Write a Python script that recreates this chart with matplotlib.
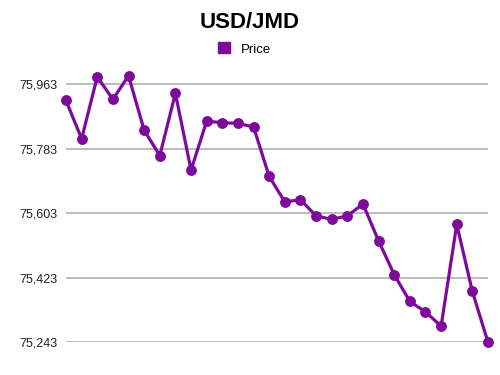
import matplotlib
matplotlib.use("Agg")
import matplotlib.pyplot as plt
from matplotlib.patches import Patch
from matplotlib.ticker import FuncFormatter

# Datos
precio = [75.918, 75.811, 75.984, 75.921, 75.987, 75.835, 75.764, 75.938,
          75.724, 75.860, 75.856, 75.854, 75.844, 75.706, 75.635, 75.641,
          75.596, 75.586, 75.596, 75.629, 75.526, 75.432, 75.357, 75.328,
          75.288, 75.572, 75.385, 75.243]
ticks_y = [75.243, 75.423, 75.603, 75.783, 75.963]

color = '#7d0a9a'
plt.rcParams['font.family'] = ['Liberation Sans', 'DejaVu Sans']

fig = plt.figure(figsize=(5, 3.75), dpi=100)
ax = fig.add_axes([0.132, 0.0872, 0.844, 0.7261])

x = list(range(len(precio)))
ax.plot(x, precio, color=color, linewidth=2.3, marker='o', markersize=6.8,
        clip_on=False, zorder=3)

ax.set_xlim(0, len(precio) - 1)
ax.set_ylim(75.243, 76.003)
ax.set_yticks(ticks_y)
ax.yaxis.set_major_formatter(FuncFormatter(lambda v, p: f"{v:.3f}".replace('.', ',')))
ax.set_xticks([])
ax.grid(axis='y', color='#aaaaaa', linewidth=1.1)
ax.tick_params(axis='y', length=0, pad=6, labelsize=9, colors='#222222')
for s in ax.spines.values():
    s.set_visible(False)

fig.text(0.5, 1 - 22 / 375, "USD/JMD", ha='center', va='center',
         fontsize=16, fontweight='bold')
fig.legend(handles=[Patch(color=color, label='Price')], loc='center',
           bbox_to_anchor=(0.489, 1 - 49 / 375), frameon=False, fontsize=9.5,
           handlelength=0.9, handleheight=0.9, handletextpad=0.8)

fig.savefig("out.png", dpi=100)
